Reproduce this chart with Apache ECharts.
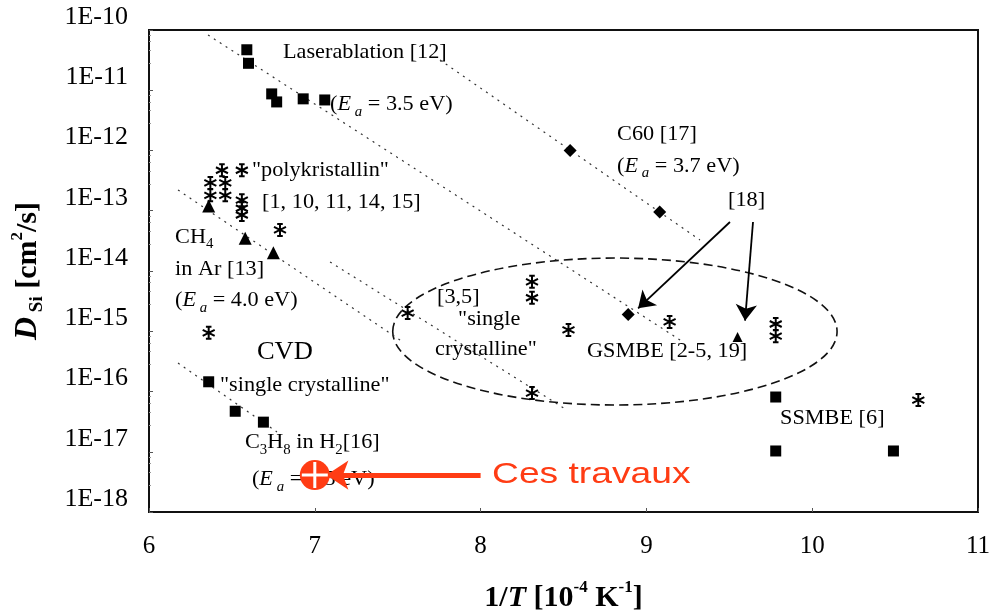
<!DOCTYPE html>
<html>
<head>
<meta charset="utf-8">
<script src="https://cdn.jsdelivr.net/npm/echarts@6/dist/echarts.min.js"></script>
<style>
  html, body { margin: 0; padding: 0; background: #fff; }
  #chart { width: 991px; height: 614px; }
</style>
</head>
<body>
<div id="chart"></div>
<script>
// ---- Data: silicon diffusion coefficient D_Si vs 1/T (10^-4 K^-1) ----
const yTickLabels = ['1E-18', '1E-17', '1E-16', '1E-15', '1E-14', '1E-13', '1E-12', '1E-11', '1E-10'];

// Laser ablation [12]
const laserX = [6.59, 6.60, 6.74, 6.77, 6.93, 7.06];
const laserD = [4.7e-11, 2.8e-11, 8.7e-12, 6.4e-12, 7.2e-12, 6.9e-12];
// C60 [17]
const c60X = [8.54, 9.08];
const c60D = [1.0e-12, 9.5e-14];
// GSMBE [18] (diamond and triangle)
const gsmbeDiaX = [8.89];
const gsmbeDiaD = [1.9e-15];
const gsmbeTriX = [9.55];
const gsmbeTriD = [8.0e-16];
// CH4 in Ar [13]
const ch4X = [6.36, 6.58, 6.75];
const ch4D = [1.2e-13, 3.5e-14, 2.0e-14];
// CVD single crystalline, C3H8 in H2 [16]
const cvdX = [6.36, 6.52, 6.69];
const cvdD = [1.45e-16, 4.7e-17, 3.1e-17];
// SSMBE [6]
const ssmbeX = [9.78, 9.78, 10.49];
const ssmbeD = [8.1e-17, 1.03e-17, 1.03e-17];
// polycrystalline [1, 10, 11, 14, 15]
const polyX = [6.44, 6.56, 6.37, 6.37, 6.46, 6.46, 6.56, 6.56, 6.56, 6.79, 6.36];
const polyD = [4.7e-13, 4.7e-13, 2.9e-13, 1.8e-13, 2.9e-13, 1.8e-13, 1.5e-13, 1.1e-13, 8.5e-14, 4.8e-14, 9.4e-16];
// single crystalline (GSMBE [2-5, 19], [3,5])
const singleX = [7.56, 8.31, 8.31, 8.53, 9.14, 9.78, 9.78, 8.31, 10.64];
const singleD = [2.0e-15, 6.6e-15, 3.6e-15, 1.05e-15, 1.43e-15, 1.32e-15, 8.3e-16, 9.4e-17, 7.2e-17];
// this work
const workX = [7.0];
const workD = [4.1e-18];

// Arrhenius fit lines (end points)
const laserFitX = [6.356, 9.203];
const laserFitD = [8.26e-11, 7.16e-16];
const c60FitX = [7.755, 9.323];
const c60FitD = [3.18e-11, 3.27e-14];
const ch4FitX = [6.175, 7.514];
const ch4FitD = [2.21e-13, 7.16e-16];
const scFitX = [7.092, 8.521];
const scFitD = [1.41e-14, 4.93e-17];
const c3h8FitX = [6.175, 6.772];
const c3h8FitD = [2.97e-16, 2.13e-17];

// ---- helpers ----
const zip = (xs, ys) => xs.map((x, i) => [x, ys[i]]);
const SERIF = "'Liberation Serif', 'Times New Roman', serif";
const SANS = "'Liberation Sans', Arial, sans-serif";
const STAR = 'path://M5 0V10M0.7 2.5L9.3 7.5M9.3 2.5L0.7 7.5M3 0H7M3 10H7';
const CROSS = 'path://M5 0V10M0 5H10';
const RED = '#ff3c14';

function scatter(name, xs, ys, symbol, size, extra) {
  return Object.assign({
    name, type: 'scatter', data: zip(xs, ys), symbol, symbolSize: size,
    itemStyle: { color: '#000', opacity: 1 }, z: 4, silent: true
  }, extra || {});
}
function starSeries(name, xs, ys) {
  return scatter(name, xs, ys, STAR, 12, {
    itemStyle: { color: 'rgba(0,0,0,0)', borderColor: '#000', borderWidth: 2, opacity: 1 }
  });
}
function fitLine(name, xs, ys) {
  return {
    name, type: 'line', data: zip(xs, ys), symbol: 'none', silent: true, z: 3,
    lineStyle: { color: '#333', width: 1.2, type: [2, 5] }
  };
}

// Ellipse around the single-crystalline data, given by its bounding values
const ellipseBox = [[7.47, 1.64e-14, 10.15, 5.97e-17]];

const series = [
  fitLine('laserFit', laserFitX, laserFitD),
  fitLine('c60Fit', c60FitX, c60FitD),
  fitLine('ch4Fit', ch4FitX, ch4FitD),
  fitLine('scFit', scFitX, scFitD),
  fitLine('c3h8Fit', c3h8FitX, c3h8FitD),
  {
    type: 'custom', name: 'ellipse', silent: true, z: 3,
    data: ellipseBox,
    encode: { x: [0, 2], y: [1, 3] },
    renderItem: function (params, api) {
      const p1 = api.coord([api.value(0), api.value(1)]);
      const p2 = api.coord([api.value(2), api.value(3)]);
      return {
        type: 'ellipse',
        shape: { cx: (p1[0] + p2[0]) / 2, cy: (p1[1] + p2[1]) / 2,
                 rx: Math.abs(p2[0] - p1[0]) / 2, ry: Math.abs(p2[1] - p1[1]) / 2 },
        style: { fill: 'none', stroke: '#111', lineWidth: 1.6, lineDash: [9, 5] }
      };
    }
  },
  scatter('Laserablation', laserX, laserD, 'rect', 11),
  scatter('C60', c60X, c60D, 'diamond', 13),
  scatter('GSMBE diamond', gsmbeDiaX, gsmbeDiaD, 'diamond', 13),
  scatter('GSMBE triangle', gsmbeTriX, gsmbeTriD, 'triangle', 10),
  scatter('CH4 in Ar', ch4X, ch4D, 'triangle', 13),
  scatter('CVD', cvdX, cvdD, 'rect', 11),
  scatter('SSMBE', ssmbeX, ssmbeD, 'rect', 11),
  starSeries('polykristallin', polyX, polyD),
  starSeries('single crystalline', singleX, singleD),
  {
    type: 'lines', coordinateSystem: 'cartesian2d', silent: true, z: 5,
    symbol: ['none', 'arrow'], symbolSize: 16,
    lineStyle: { color: '#000', width: 1.8, opacity: 1 },
    data: [
      { coords: [[9.504, 6.5e-14], [8.95, 2.4e-15]] },
      { coords: [[9.643, 6.5e-14], [9.595, 1.5e-15]] }
    ]
  },
  {
    type: 'lines', coordinateSystem: 'cartesian2d', silent: true, z: 5,
    symbol: ['none', 'arrow'], symbolSize: 22,
    lineStyle: { color: RED, width: 5, opacity: 1 },
    data: [{ coords: [[8.0, workD[0]], [7.07, workD[0]]] }]
  },
  scatter('Ces travaux', workX, workD, 'circle', 30, { itemStyle: { color: RED, opacity: 1 }, z: 6 }),
  scatter('Ces travaux cross', workX, workD, CROSS, 26, {
    itemStyle: { color: 'rgba(0,0,0,0)', borderColor: '#fff', borderWidth: 3, opacity: 1 }, z: 7
  })
];

const richBase = {
  i: { fontFamily: SERIF, fontSize: 21, fontStyle: 'italic', lineHeight: 28, verticalAlign: 'middle', color: '#000' },
  sub: { fontFamily: SERIF, fontSize: 14, lineHeight: 28, verticalAlign: 'bottom', color: '#000' },
  isub: { fontFamily: SERIF, fontSize: 14, fontStyle: 'italic', lineHeight: 28, verticalAlign: 'bottom', color: '#000' }
};

// Text annotations anchored in data space: [x, D, text, options]
const notes = [
  [6.808, 4.3e-11, 'Laserablation [12]'],
  [7.092, 5.7e-12, '({i|E}{isub| a} = 3.5 eV)'],
  [8.823, 1.81e-12, 'C60 [17]'],
  [8.823, 5.5e-13, '({i|E}{isub| a} = 3.7 eV)'],
  [9.492, 1.5e-13, '[18]'],
  [6.621, 4.7e-13, '"polykristallin"'],
  [6.682, 1.35e-13, '[1, 10, 11, 14, 15]'],
  [6.157, 3.66e-14, 'CH{sub|4}'],
  [6.157, 1.04e-14, 'in Ar [13]'],
  [6.157, 3.18e-15, '({i|E}{isub| a} = 4.0 eV)'],
  [6.651, 4.53e-16, 'CVD', { fontSize: 25 }],
  [6.428, 1.28e-16, '"single crystalline"'],
  [6.579, 1.40e-17, 'C{sub|3}H{sub|8} in H{sub|2}[16]'],
  [6.621, 3.40e-18, '({i|E}{isub| a} = 3.5 eV)'],
  [7.737, 3.7e-15, '[3,5]'],
  [7.864, 1.54e-15, '"single'],
  [7.725, 4.9e-16, 'crystalline"'],
  [8.642, 4.53e-16, 'GSMBE [2-5, 19]'],
  [9.806, 3.63e-17, 'SSMBE [6]'],
  [8.069, workD[0], 'Ces travaux', { fontFamily: SANS, fontSize: 30, color: RED, scaleX: 1.24 }]
];

const chart = echarts.init(document.getElementById('chart'), null, { renderer: 'canvas' });

const option = {
  backgroundColor: '#fff',
  animation: false,
  grid: {
    left: 149, right: 13, top: 30, bottom: 102,
    containLabel: false, outerBoundsMode: 'none',
    show: true, borderColor: '#111', borderWidth: 2
  },
  xAxis: {
    type: 'value', min: 6, max: 11, interval: 1,
    name: '{b|1/}{bi|T}{b| [10}{sup|-4}{b| K}{sup|-1}{b|]}',
    nameLocation: 'middle', nameGap: 67,
    nameTextStyle: {
      rich: {
        b: { fontFamily: SERIF, fontWeight: 'bold', fontSize: 30, lineHeight: 38, verticalAlign: 'middle', color: '#000' },
        bi: { fontFamily: SERIF, fontWeight: 'bold', fontStyle: 'italic', fontSize: 30, lineHeight: 38, verticalAlign: 'middle', color: '#000' },
        sup: { fontFamily: SERIF, fontWeight: 'bold', fontSize: 17, lineHeight: 38, verticalAlign: 'top', color: '#000' }
      }
    },
    axisLine: { lineStyle: { color: '#111', width: 2 } },
    axisTick: { inside: true, length: 4, lineStyle: { color: '#555' } },
    splitLine: { show: false },
    axisLabel: { fontFamily: SERIF, fontSize: 25, color: '#000', margin: 22 }
  },
  yAxis: {
    type: 'log', logBase: 10, min: 1e-18, max: 1e-10,
    name: '{bi|D}{bs| Si}{b| [cm}{sup|2}{b|/s]}',
    nameLocation: 'middle', nameGap: 102, nameRotate: 90,
    nameTextStyle: {
      rich: {
        b: { fontFamily: SERIF, fontWeight: 'bold', fontSize: 30, lineHeight: 38, verticalAlign: 'middle', color: '#000' },
        bi: { fontFamily: SERIF, fontWeight: 'bold', fontStyle: 'italic', fontSize: 32, lineHeight: 38, verticalAlign: 'middle', color: '#000' },
        bs: { fontFamily: SERIF, fontWeight: 'bold', fontSize: 19, lineHeight: 38, verticalAlign: 'bottom', color: '#000' },
        sup: { fontFamily: SERIF, fontWeight: 'bold', fontSize: 17, lineHeight: 38, verticalAlign: 'top', color: '#000' }
      }
    },
    axisLine: { show: true, lineStyle: { color: '#111', width: 2 } },
    axisTick: { inside: true, length: 4, lineStyle: { color: '#555' } },
    minorTick: { show: true, splitNumber: 5, length: 2, lineStyle: { color: '#999' } },
    splitLine: { show: false },
    axisLabel: {
      fontFamily: SERIF, fontSize: 26, color: '#000', margin: 21,
      verticalAlign: 'bottom',
      formatter: function (v) {
        const e = Math.round(Math.log10(v));
        return yTickLabels[e + 18];
      }
    }
  },
  series: series
};

chart.setOption(option);

// Place annotations from their data anchors
const graphics = notes.map(function (n) {
  const p = chart.convertToPixel({ gridIndex: 0 }, [n[0], n[1]]);
  const o = n[3] || {};
  return {
    type: 'text', x: p[0], y: p[1], z: 1, silent: true,
    scaleX: o.scaleX || 1.06,
    style: {
      text: n[2], fontFamily: o.fontFamily || SERIF, fontSize: o.fontSize || 21,
      fill: o.color || '#000', verticalAlign: 'middle', align: 'left', lineHeight: 28,
      rich: richBase
    }
  };
});
chart.setOption({ graphic: graphics });
</script>
</body>
</html>
